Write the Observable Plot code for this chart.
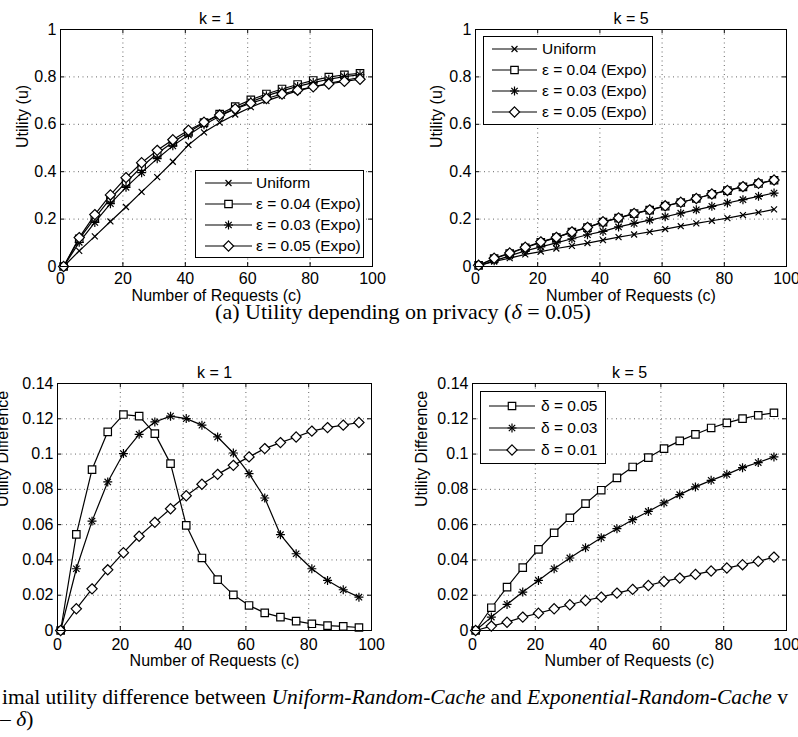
<!DOCTYPE html>
<html><head><meta charset="utf-8">
<script src="https://cdn.jsdelivr.net/npm/d3@7"></script>
<script src="https://cdn.jsdelivr.net/npm/@observablehq/plot@0.6"></script>
<style>
body{margin:0;background:#fff;}
#root{position:relative;width:798px;height:737px;overflow:hidden;background:#fff;}
.panel{position:absolute;}
.cap{position:absolute;font-family:"Liberation Serif","Times New Roman",serif;font-size:21.5px;line-height:22px;white-space:nowrap;color:#000;}
</style></head><body>
<div id="root">
  <div class="panel" id="p1" style="left:0;top:0"></div>
  <div class="panel" id="p2" style="left:398px;top:0"></div>
  <div class="cap" id="capA" style="left:403px;top:302px;line-height:19px;transform:translateX(-50%);font-size:22px">(a) Utility depending on privacy (<i>δ</i> = 0.05)</div>
  <div class="panel" id="p3" style="left:0;top:340px"></div>
  <div class="panel" id="p4" style="left:398px;top:340px"></div>
  <div class="cap" id="capB1" style="left:2px;top:686px">imal utility difference between <i>Uniform-Random-Cache</i> and <i>Exponential-Random-Cache</i> v</div>
  <div class="cap" id="capB2" style="left:0;top:708px">– <i>δ</i>)</div>
</div>
<script>
// ---------- data ----------
const requests = [1, 6, 11, 16, 21, 26, 31, 36, 41, 46, 51, 56, 61, 66, 71, 76, 81, 86, 91, 96];
const xTicks = [0, 20, 40, 60, 80, 100];
const utilityTicks = [0, 0.2, 0.4, 0.6, 0.8, 1];
const diffTicks = [0, 0.02, 0.04, 0.06, 0.08, 0.1, 0.12, 0.14];

// (a) k = 1 utility
const uniformK1 = [0, 0.066, 0.127, 0.19, 0.251, 0.315, 0.377, 0.442, 0.513, 0.566, 0.607, 0.641, 0.672, 0.699, 0.721, 0.741, 0.758, 0.773, 0.786, 0.797];
const expo04K1  = [0, 0.117, 0.204, 0.287, 0.355, 0.421, 0.477, 0.524, 0.566, 0.607, 0.643, 0.675, 0.703, 0.728, 0.749, 0.768, 0.785, 0.799, 0.809, 0.815];
const expo03K1  = [0, 0.102, 0.186, 0.265, 0.334, 0.396, 0.455, 0.509, 0.555, 0.598, 0.634, 0.666, 0.695, 0.72, 0.741, 0.76, 0.776, 0.79, 0.801, 0.809];
const expo05K1  = [0, 0.122, 0.219, 0.302, 0.375, 0.438, 0.49, 0.535, 0.575, 0.609, 0.639, 0.665, 0.689, 0.709, 0.728, 0.744, 0.758, 0.77, 0.781, 0.79];

// (a) k = 5 utility
const uniformK5 = [0.003, 0.021, 0.035, 0.051, 0.063, 0.076, 0.087, 0.099, 0.111, 0.124, 0.135, 0.146, 0.158, 0.17, 0.182, 0.193, 0.204, 0.217, 0.228, 0.241];
const expo04K5  = [0.005, 0.033, 0.055, 0.079, 0.102, 0.122, 0.145, 0.164, 0.187, 0.204, 0.223, 0.238, 0.255, 0.27, 0.287, 0.305, 0.32, 0.336, 0.35, 0.364];
const expo03K5  = [0.004, 0.024, 0.045, 0.066, 0.083, 0.1, 0.117, 0.134, 0.148, 0.167, 0.182, 0.196, 0.21, 0.225, 0.239, 0.254, 0.268, 0.282, 0.296, 0.31];
const expo05K5  = [0.005, 0.035, 0.057, 0.081, 0.104, 0.123, 0.146, 0.165, 0.189, 0.205, 0.224, 0.239, 0.256, 0.271, 0.287, 0.306, 0.321, 0.337, 0.351, 0.365];

// (b) k = 1 utility difference
const delta05K1 = [0, 0.0545, 0.0912, 0.1126, 0.1224, 0.1215, 0.1116, 0.0946, 0.0596, 0.0411, 0.0288, 0.0202, 0.0142, 0.0100, 0.0076, 0.0053, 0.0038, 0.0028, 0.0023, 0.0017];
const delta03K1 = [0, 0.035, 0.062, 0.0842, 0.1003, 0.1112, 0.1182, 0.1215, 0.1201, 0.1164, 0.1097, 0.1006, 0.0889, 0.0751, 0.0543, 0.0435, 0.035, 0.0284, 0.0231, 0.0189];
const delta01K1 = [0, 0.0123, 0.0236, 0.0344, 0.0441, 0.0534, 0.0613, 0.069, 0.0764, 0.0829, 0.0885, 0.0936, 0.0984, 0.1031, 0.1065, 0.1097, 0.113, 0.115, 0.1164, 0.1179];

// (b) k = 5 utility difference
const delta05K5 = [0, 0.0129, 0.0246, 0.0356, 0.046, 0.0554, 0.0639, 0.0719, 0.0795, 0.0865, 0.0927, 0.098, 0.1031, 0.1075, 0.1112, 0.1148, 0.1177, 0.1201, 0.122, 0.1234];
const delta03K5 = [0, 0.0076, 0.0148, 0.0218, 0.0284, 0.035, 0.0411, 0.0469, 0.0526, 0.0577, 0.0628, 0.0675, 0.0723, 0.077, 0.0814, 0.0851, 0.0885, 0.0923, 0.0952, 0.0984];
const delta01K5 = [0, 0.0025, 0.0047, 0.0076, 0.0098, 0.0123, 0.0146, 0.017, 0.0189, 0.0212, 0.0233, 0.0255, 0.0278, 0.0297, 0.0318, 0.0337, 0.0354, 0.0373, 0.0392, 0.0416];

const utilityLabels = ["Uniform", "ε = 0.04 (Expo)", "ε = 0.03 (Expo)", "ε = 0.05 (Expo)"];
const deltaLabels = ["δ = 0.05", "δ = 0.03", "δ = 0.01"];
const titles = ["k = 1", "k = 5"];
const xLabel = "Number of Requests (c)";
const yLabelUtility = "Utility (u)";
const yLabelDiff = "Utility Difference";

// ---------- styling ----------
const FONT = '"Liberation Sans", Arial, Helvetica, sans-serif';
const FS = 16;
const SW = 1.2;
const markers = {
  times:    {symbols: ["times"], r: 2.8, fill: "none"},
  square:   {symbols: ["square"], r: 4.2, fill: "white"},
  asterisk: {symbols: ["plus", "times"], r: 3, fill: "none"},
  diamond:  {symbols: ["diamond2"], r: 4.6, fill: "white"}
};
const d3sym = {times: d3.symbolTimes, square: d3.symbolSquare, plus: d3.symbolPlus, diamond2: d3.symbolDiamond2};
const fmt = d => String(+d.toFixed(2));

function panel(cfg) {
  const {width, height, ml, mr, mt, mb, yDomain, yTicks, series, title, ylabel, ylabelDx, xPad, xLabelDy, legend} = cfg;
  const fw = width - ml - mr, fh = height - mt - mb;
  const marks = [
    Plot.ruleX(xTicks.slice(1, -1), {stroke: "#000", strokeOpacity: 0.6, strokeDasharray: "1,3.5"}),
    Plot.ruleY(yTicks.slice(1, -1), {stroke: "#000", strokeOpacity: 0.6, strokeDasharray: "1,3.5"})
  ];
  for (const s of series) {
    const data = requests.map((x, i) => ({x, y: s.values[i]}));
    marks.push(Plot.line(data, {x: "x", y: "y", stroke: "#000", strokeWidth: SW}));
    const m = markers[s.marker];
    for (const sym of m.symbols)
      marks.push(Plot.dot(data, {x: "x", y: "y", symbol: sym, r: m.r, fill: m.fill, stroke: "#000", strokeWidth: SW}));
  }
  marks.push(
    Plot.ruleX(xTicks, {stroke: "#000", insetTop: fh - 4}),
    Plot.ruleX(xTicks, {stroke: "#000", insetBottom: fh - 4}),
    Plot.ruleY(yTicks, {stroke: "#000", insetRight: fw - 4}),
    Plot.ruleY(yTicks, {stroke: "#000", insetLeft: fw - 4}),
    Plot.frame({stroke: "#000", strokeWidth: 1}),
    Plot.text([title], {text: d => d, frameAnchor: "top", dy: -17, fontSize: FS}),
    Plot.text([xLabel], {text: d => d, frameAnchor: "bottom", dy: xLabelDy, fontSize: FS}),
    Plot.text([ylabel], {text: d => d, frameAnchor: "left", dx: ylabelDx, rotate: -90, fontSize: FS})
  );
  const svg = Plot.plot({
    width, height, marginLeft: ml, marginRight: mr, marginTop: mt, marginBottom: mb,
    style: {fontFamily: FONT, fontSize: FS + "px", background: "transparent", overflow: "visible", color: "#000"},
    x: {domain: [0, 100], ticks: xTicks, tickSize: 0, tickPadding: xPad, label: null, tickFormat: fmt},
    y: {domain: yDomain, ticks: yTicks, tickSize: 0, tickPadding: 4, label: null, tickFormat: fmt},
    marks
  });
  // legend
  if (legend) {
    const g = d3.select(svg).append("g").attr("text-anchor", "start");
    const {box, rows, line, text} = legend;
    g.append("rect").attr("x", box[0] + 0.5).attr("y", box[1] + 0.5)
      .attr("width", box[2] - box[0]).attr("height", box[3] - box[1])
      .attr("fill", "white").attr("stroke", "#000");
    legend.items.forEach((it, i) => {
      const y = rows[i];
      g.append("line").attr("x1", line[0]).attr("x2", line[1]).attr("y1", y).attr("y2", y)
        .attr("stroke", "#000").attr("stroke-width", SW);
      const m = markers[it.marker];
      const cx = (line[0] + line[1]) / 2;
      for (const sym of m.symbols)
        g.append("path").attr("transform", `translate(${cx},${y})`)
          .attr("d", d3.symbol(d3sym[sym], Math.PI * m.r * m.r)())
          .attr("fill", m.fill).attr("stroke", "#000").attr("stroke-width", SW);
      g.append("text").attr("x", text).attr("y", y).attr("dy", "0.35em").attr("text-anchor", "start")
        .attr("font-family", FONT).attr("font-size", 15.5).attr("fill", "#000").text(it.label);
    });
  }
  return svg;
}

document.getElementById("p1").append(panel({
  width: 390, height: 306, ml: 60, mr: 18, mt: 29, mb: 40, xPad: 6, xLabelDy: 34,
  yDomain: [0, 1], yTicks: utilityTicks, title: titles[0], ylabel: yLabelUtility, ylabelDx: -38,
  series: [
    {values: uniformK1, marker: "times"},
    {values: expo04K1, marker: "square"},
    {values: expo03K1, marker: "asterisk"},
    {values: expo05K1, marker: "diamond"}
  ],
  legend: {box: [195, 170, 363, 257], rows: [183, 204, 225, 246], line: [205, 252], text: 256,
    items: [{label: utilityLabels[0], marker: "times"}, {label: utilityLabels[1], marker: "square"},
            {label: utilityLabels[2], marker: "asterisk"}, {label: utilityLabels[3], marker: "diamond"}]}
}));

document.getElementById("p2").append(panel({
  width: 400, height: 306, ml: 77, mr: 12, mt: 29, mb: 40, xPad: 6, xLabelDy: 34,
  yDomain: [0, 1], yTicks: utilityTicks, title: titles[1], ylabel: yLabelUtility, ylabelDx: -39,
  series: [
    {values: uniformK5, marker: "times"},
    {values: expo04K5, marker: "square"},
    {values: expo03K5, marker: "asterisk"},
    {values: expo05K5, marker: "diamond"}
  ],
  legend: {box: [85, 36, 254, 124], rows: [49, 70, 91, 112], line: [94, 139], text: 144,
    items: [{label: utilityLabels[0], marker: "times"}, {label: utilityLabels[1], marker: "square"},
            {label: utilityLabels[2], marker: "asterisk"}, {label: utilityLabels[3], marker: "diamond"}]}
}));

document.getElementById("p3").append(panel({
  width: 390, height: 335, ml: 57, mr: 19, mt: 43, mb: 45, xPad: 8, xLabelDy: 35,
  yDomain: [0, 0.14], yTicks: diffTicks, title: titles[0], ylabel: yLabelDiff, ylabelDx: -55,
  series: [
    {values: delta05K1, marker: "square"},
    {values: delta03K1, marker: "asterisk"},
    {values: delta01K1, marker: "diamond"}
  ]
}));

document.getElementById("p4").append(panel({
  width: 400, height: 335, ml: 74, mr: 12, mt: 43, mb: 45, xPad: 8, xLabelDy: 35,
  yDomain: [0, 0.14], yTicks: diffTicks, title: titles[1], ylabel: yLabelDiff, ylabelDx: -51,
  series: [
    {values: delta05K5, marker: "square"},
    {values: delta03K5, marker: "asterisk"},
    {values: delta01K5, marker: "diamond"}
  ],
  legend: {box: [82, 51, 207, 123], rows: [66, 88, 110], line: [91, 137], text: 143,
    items: [{label: deltaLabels[0], marker: "square"}, {label: deltaLabels[1], marker: "asterisk"},
            {label: deltaLabels[2], marker: "diamond"}]}
}));
</script>
</body></html>
